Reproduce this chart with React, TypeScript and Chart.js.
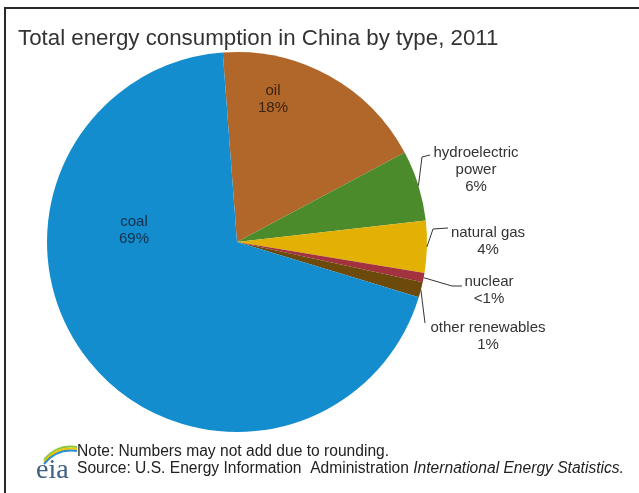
import React, { useEffect, useRef } from "react";
import { Chart, registerables } from "chart.js";

Chart.register(...registerables);

// ---- data ----
const categories = ["oil", "hydroelectric power", "natural gas", "nuclear", "other renewables", "coal"];
const shares = [18.4, 6.0, 4.4, 0.8, 1.3, 69.1];
const percentLabels = ["18%", "6%", "4%", "<1%", "1%", "69%"];
const nameLines = [["oil"], ["hydroelectric", "power"], ["natural gas"], ["nuclear"], ["other renewables"], ["coal"]];
const sliceColors = ["#b2672a", "#4b8b2b", "#e3b004", "#a2323e", "#6b4a0c", "#138dcd"];
const titleText = "Total energy consumption in China by type, 2011";
const noteText = "Note: Numbers may not add due to rounding.";
const sourceText = "Source: U.S. Energy Information  Administration ";
const sourceItalic = "International Energy Statistics.";

// ---- layout (positions, not data) ----
const W = 639;
const H = 493;
const FONT = "'Liberation Sans', Arial, sans-serif";
const insideLabelPos: Record<number, { x: number; y: number; color: string }> = {
  0: { x: 273, y: 91, color: "#3a2410" },
  5: { x: 134, y: 222, color: "#14304a" },
};
const outsideLabelPos: Record<number, { path: number[][]; x: number; y: number }> = {
  1: { path: [[422, 157], [430, 155]], x: 476, y: 153 },
  2: { path: [[433, 229], [448, 228]], x: 488, y: 233 },
  3: { path: [[452, 286], [462, 286]], x: 489, y: 282 },
  4: { path: [[425, 323]], x: 488, y: 328 },
};
const LINE_H = 17;

const overlay = {
  id: "overlay",
  afterDraw(chart: any) {
    const ctx = chart.ctx as CanvasRenderingContext2D;
    const meta = chart.getDatasetMeta(0);
    ctx.save();

    // frame (top + left lines)
    ctx.strokeStyle = "#2a2a2a";
    ctx.lineWidth = 2;
    ctx.beginPath();
    ctx.moveTo(5, H);
    ctx.lineTo(5, 8);
    ctx.lineTo(W, 8);
    ctx.stroke();

    // title
    ctx.fillStyle = "#333333";
    ctx.font = `22.3px ${FONT}`;
    ctx.textAlign = "left";
    ctx.textBaseline = "alphabetic";
    ctx.fillText(titleText, 18, 45);

    // labels
    ctx.textAlign = "center";
    ctx.textBaseline = "middle";
    ctx.font = `15px ${FONT}`;
    meta.data.forEach((arc: any, i: number) => {
      const lines = [...nameLines[i], percentLabels[i]];
      if (insideLabelPos[i]) {
        const p = insideLabelPos[i];
        ctx.fillStyle = p.color;
        lines.forEach((t, k) => ctx.fillText(t, p.x, p.y + k * LINE_H));
      } else if (outsideLabelPos[i]) {
        const p = outsideLabelPos[i];
        const mid = (arc.startAngle + arc.endAngle) / 2;
        const sx = arc.x + Math.cos(mid) * arc.outerRadius;
        const sy = arc.y + Math.sin(mid) * arc.outerRadius;
        ctx.strokeStyle = "#333333";
        ctx.lineWidth = 1;
        ctx.beginPath();
        ctx.moveTo(sx, sy);
        p.path.forEach(([x, y]) => ctx.lineTo(x, y));
        ctx.stroke();
        ctx.fillStyle = "#333333";
        lines.forEach((t, k) => ctx.fillText(t, p.x, p.y + k * LINE_H));
      }
    });

    // footer
    ctx.textAlign = "left";
    ctx.fillStyle = "#222222";
    ctx.font = `15.6px ${FONT}`;
    ctx.fillText(noteText, 77, 452);
    ctx.fillText(sourceText, 77, 469);
    const w = ctx.measureText(sourceText).width;
    ctx.font = `italic 15.6px ${FONT}`;
    ctx.fillText(sourceItalic, 77 + w, 469);

    // eia logo
    const swoosh = [
      { c: "#8cc63f", dy: 0 },
      { c: "#f2c500", dy: 2 },
      { c: "#2f8fcf", dy: 4 },
    ];
    ctx.lineWidth = 2;
    swoosh.forEach((s) => {
      ctx.strokeStyle = s.c;
      ctx.beginPath();
      ctx.moveTo(44, 460 + s.dy);
      ctx.quadraticCurveTo(57, 444 + s.dy, 77, 447 + s.dy);
      ctx.stroke();
    });
    ctx.fillStyle = "#3d5f80";
    ctx.textBaseline = "alphabetic";
    ctx.font = `28px 'Liberation Serif', 'DejaVu Serif', serif`;
    ctx.fillText("eia", 36, 478);

    ctx.restore();
  },
};

export default function App() {
  const ref = useRef<HTMLCanvasElement>(null);
  useEffect(() => {
    if (!ref.current) return;
    const chart = new Chart(ref.current, {
      type: "pie",
      data: {
        labels: categories,
        datasets: [
          {
            data: shares,
            backgroundColor: sliceColors,
            borderWidth: 0,
          },
        ],
      },
      options: {
        responsive: false,
        animation: false,
        rotation: -4.3,
        layout: { padding: { left: 47, right: 212, top: 52, bottom: 61 } },
        plugins: {
          legend: { display: false },
          title: { display: false },
          tooltip: { enabled: false },
        },
      },
      plugins: [overlay],
    });
    return () => chart.destroy();
  }, []);
  return (
    <div style={{ position: "fixed", left: 0, top: 0, width: W, height: H, background: "#fff" }}>
      <canvas ref={ref} width={W} height={H} style={{ display: "block" }} />
    </div>
  );
}
